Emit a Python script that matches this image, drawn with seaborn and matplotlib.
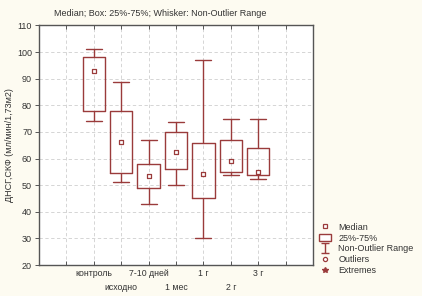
import matplotlib
matplotlib.use("Agg")
import matplotlib.pyplot as plt
import seaborn as sns
import pandas as pd
import numpy as np
from matplotlib.lines import Line2D
from matplotlib.patches import Patch
from matplotlib.path import Path

categories = ["контроль", "исходно", "7-10 дней", "1 мес", "1 г", "2 г", "3 г"]
whisker_lo = [74.0, 51.2, 43.0, 50.0, 30.0, 53.8, 52.3]
q1 = [77.8, 54.5, 48.9, 56.0, 45.1, 55.0, 53.7]
median = [93.0, 66.1, 53.6, 62.5, 54.1, 59.0, 55.1]
q3 = [98.0, 77.8, 58.0, 70.0, 66.0, 67.1, 63.9]
whisker_hi = [101.1, 88.9, 67.1, 73.9, 97.2, 75.0, 75.0]
y_ticks = [20, 30, 40, 50, 60, 70, 80, 90, 100, 110]

title = "Median; Box: 25%-75%; Whisker: Non-Outlier Range"
ylabel = "ДНСГ,СКФ (мл/мин/1,73м2)"

sns.set_style("white")
plt.rcParams["font.family"] = ["Liberation Sans", "DejaVu Sans"]

red = "#9a3b3b"
bg = "#fdfbf1"

fig = plt.figure(figsize=(4.22, 2.96), dpi=100, facecolor=bg)
ax = fig.add_axes([0.0924, 0.1047, 0.6493, 0.8093])
ax.set_facecolor("white")

stats = []
for i, c in enumerate(categories):
    stats.append(dict(label=c, whislo=whisker_lo[i], q1=q1[i], med=median[i],
                      q3=q3[i], whishi=whisker_hi[i], fliers=[]))
pos = list(range(len(categories)))
ax.bxp(stats, positions=pos, widths=0.82, capwidths=0.58, showfliers=False,
       boxprops=dict(color=red, linewidth=1.0),
       whiskerprops=dict(color=red, linewidth=1.0),
       capprops=dict(color=red, linewidth=1.0),
       medianprops=dict(linewidth=0))

df = pd.DataFrame({"pos": pos, "median": median})
sns.scatterplot(data=df, x="pos", y="median", marker="s", s=9, facecolor="white",
                edgecolor=red, linewidth=0.9, ax=ax, zorder=5, legend=False)

ax.set_xlim(-2, 8)
ax.set_ylim(20, 110)
ax.set_yticks(y_ticks)
ax.set_yticklabels([str(v) for v in y_ticks], fontsize=6.5, color="#333333")

major_pos = [-1] + [p for p in pos if p % 2 == 0] + [7]
major_lab = [""] + [categories[p] for p in pos if p % 2 == 0] + [""]
minor_pos = [p for p in pos if p % 2 == 1]
minor_lab = [categories[p] for p in pos if p % 2 == 1]
ax.set_xticks(major_pos)
ax.set_xticklabels(major_lab, fontsize=6.3, color="#333333")
ax.set_xticks(minor_pos, minor=True)
ax.set_xticklabels(minor_lab, minor=True, fontsize=6.3, color="#333333")
ax.set_xlabel("")
ax.set_ylabel(ylabel, fontsize=6.5, color="#333333", labelpad=2)
ax.grid(True, which="both", color="#cfcfcf", linestyle=(0, (4, 3)), linewidth=0.6)
ax.set_axisbelow(True)
for s in ax.spines.values():
    s.set_color("#555555")
    s.set_linewidth(1.0)
ax.tick_params(axis="x", which="both", length=3, width=0.7, color="#555555",
               direction="in", top=True, bottom=True)
ax.tick_params(axis="x", which="major", pad=3)
ax.tick_params(axis="x", which="minor", pad=13)
ax.tick_params(axis="y", length=3, width=0.7, color="#555555", direction="out",
               left=True, right=False, pad=2)

fig.text(0.38, 0.953, title, ha="center", va="center", fontsize=6.5, color="#333333")

ibeam = Path([(-0.8, 1), (0.8, 1), (0, 1), (0, -1), (-0.8, -1), (0.8, -1)],
             [Path.MOVETO, Path.LINETO, Path.MOVETO, Path.LINETO, Path.MOVETO, Path.LINETO])
handles = [
    Line2D([], [], linestyle="none", marker="s", markersize=3, markerfacecolor="white",
           markeredgecolor=red, markeredgewidth=0.9),
    Patch(facecolor="white", edgecolor=red, linewidth=1.0),
    Line2D([], [], linestyle="none", marker=ibeam, markersize=7, markeredgecolor=red,
           markeredgewidth=1.0),
    Line2D([], [], linestyle="none", marker="o", markersize=3, markerfacecolor="white",
           markeredgecolor=red, markeredgewidth=0.9),
    Line2D([], [], linestyle="none", marker="*", markersize=4, color=red),
]
leg = fig.legend(handles, ["Median", "25%-75%", "Non-Outlier Range", "Outliers", "Extremes"],
                 loc="upper left", bbox_to_anchor=(0.757, 0.247), frameon=False,
                 fontsize=6.5, handlelength=1.3, handleheight=0.9, handletextpad=0.8,
                 labelspacing=0.2, borderaxespad=0, borderpad=0)
for t in leg.get_texts():
    t.set_color("#333333")

fig.savefig("out.png", dpi=100, facecolor=bg)
